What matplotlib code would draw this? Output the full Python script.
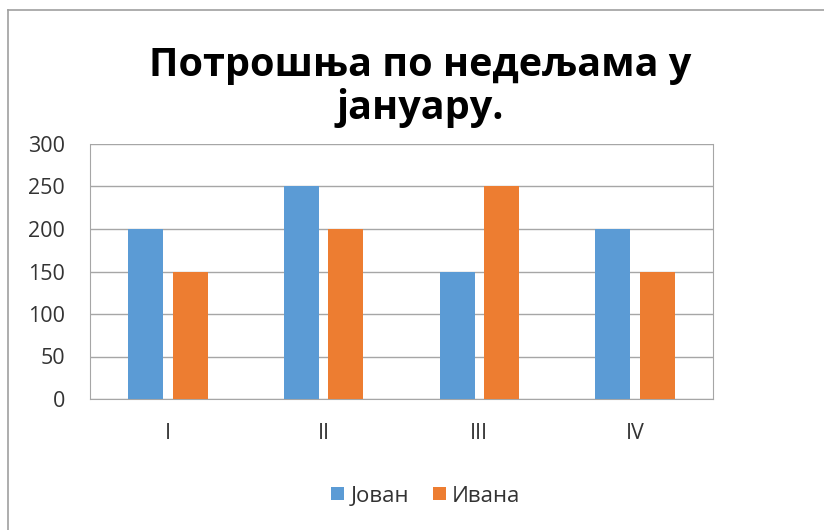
import numpy as np
import matplotlib.pyplot as plt
from matplotlib.lines import Line2D

# Chart data
weeks = ['I', 'II', 'III', 'IV']
jovan = [200, 250, 150, 200]
ivana = [150, 200, 250, 150]

blue = '#5B9BD5'
orange = '#ED7D31'
grid_col = '#A6A6A6'
txt_col = '#333333'

plt.rcParams['font.family'] = ['Open Sans', 'DejaVu Sans']

fig = plt.figure(figsize=(8.24, 5.30), dpi=100)
ax = fig.add_axes([90 / 824, 1 - 399 / 530, 623 / 824, 255 / 530])

x = np.arange(len(weeks))
w = 0.225
off = 0.143
ax.bar(x - off, jovan, w, color=blue, label='Јован', zorder=3)
ax.bar(x + off, ivana, w, color=orange, label='Ивана', zorder=3)

ax.set_xlim(-0.5, len(weeks) - 0.5)
ax.set_ylim(0, 300)
ax.set_yticks(np.arange(0, 301, 50))
ax.set_xticks(x)
ax.set_xticklabels(weeks)
ax.yaxis.grid(True, color=grid_col, linewidth=1, zorder=0)
ax.tick_params(axis='both', length=0, labelsize=15.5, colors=txt_col)
ax.tick_params(axis='x', pad=17)
ax.tick_params(axis='y', pad=18)
for s in ax.spines.values():
    s.set_color(grid_col)
ax.spines['top'].set_visible(False)

# Title
fig.text(420 / 824, 1 - 87 / 530, 'Потрошња по недељама у\nјануару.',
         ha='center', va='center', fontsize=28.5, fontweight='bold',
         linespacing=1.08)

# Legend
ax.legend(loc='center', bbox_to_anchor=(426 / 824, 1 - 496 / 530),
          bbox_transform=fig.transFigure, ncol=2, frameon=False,
          fontsize=16, handlelength=0.55, handleheight=0.55,
          handletextpad=0.3, columnspacing=1.1, labelcolor=txt_col)

# Outer chart border
fig.add_artist(Line2D([8 / 824, 1], [1 - 10 / 530, 1 - 10 / 530],
                      transform=fig.transFigure, color='#A0A0A0', lw=1.2))
fig.add_artist(Line2D([8 / 824, 8 / 824], [0, 1 - 10 / 530],
                      transform=fig.transFigure, color='#A0A0A0', lw=1.2))

plt.savefig('out.png', dpi=100)
